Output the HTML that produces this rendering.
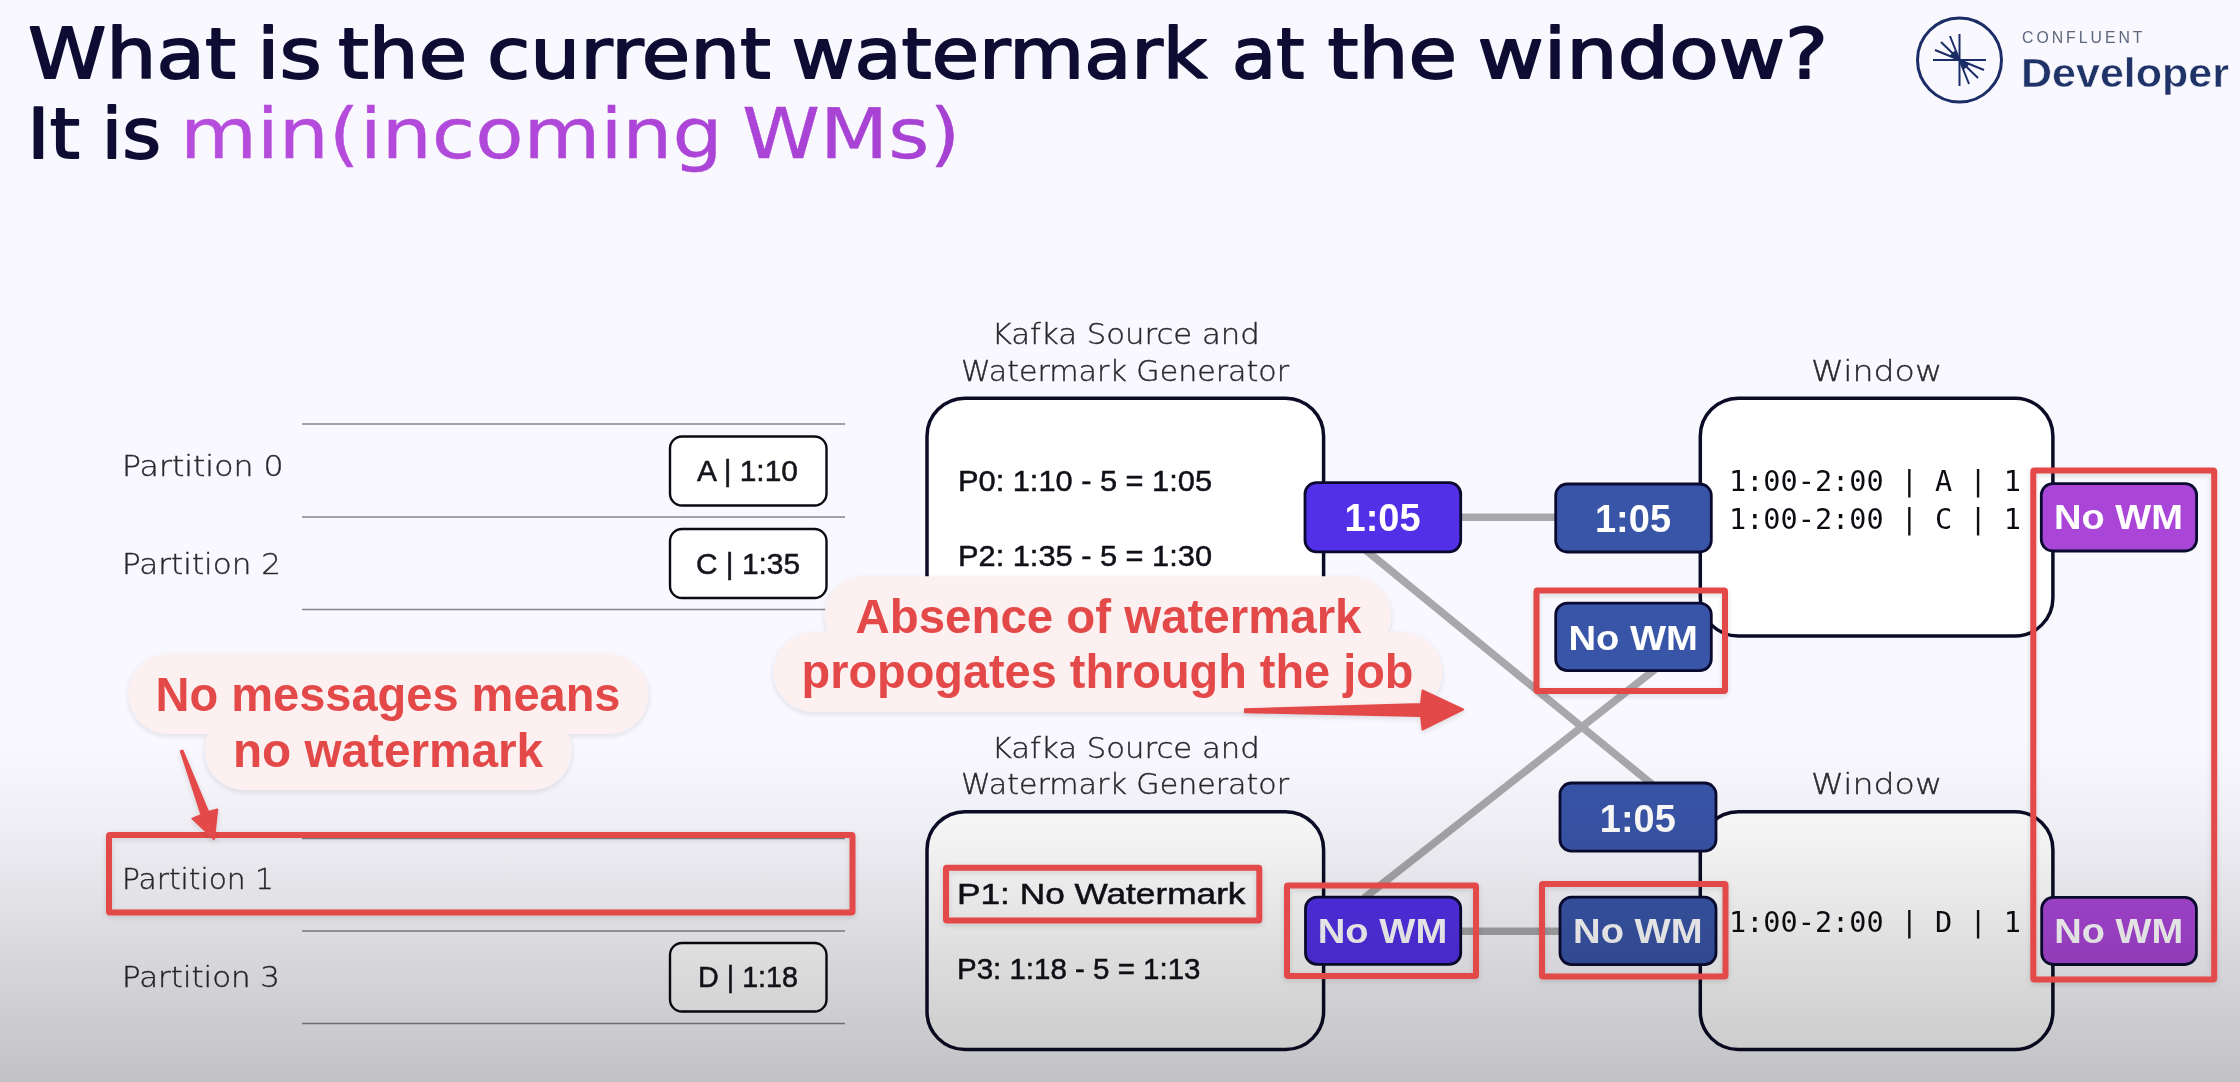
<!DOCTYPE html>
<html lang="en">
<head>
<meta charset="utf-8">
<title>What is the current watermark at the window?</title>
<style>
html,body{margin:0;padding:0;background:#f8f8fe;overflow:hidden;}
body{width:2240px;height:1082px;position:relative;}
svg{position:absolute;left:0;top:0;display:block;will-change:transform;}
.t{font-family:"Liberation Sans",sans-serif;}
.lt{font-family:"DejaVu Sans Light","DejaVu Sans","Liberation Sans",sans-serif;font-weight:200;}
.dj{font-family:"DejaVu Sans","Liberation Sans",sans-serif;}
.mono{font-family:"DejaVu Sans Mono","Liberation Mono",monospace;}
.b{font-family:"Liberation Sans",sans-serif;font-weight:700;}
</style>
</head>
<body>
<svg width="2240" height="1082" viewBox="0 0 2240 1082">
<defs>
  <linearGradient id="bggrad" x1="0" y1="0" x2="0" y2="1">
    <stop offset="0" stop-color="#000" stop-opacity="0"/>
    <stop offset="0.24" stop-color="#000" stop-opacity="0.04"/>
    <stop offset="0.46" stop-color="#000" stop-opacity="0.09"/>
    <stop offset="0.73" stop-color="#000" stop-opacity="0.158"/>
    <stop offset="1" stop-color="#000" stop-opacity="0.22"/>
  </linearGradient>
  <filter id="rsh" x="-5%" y="-5%" width="110%" height="115%">
    <feDropShadow dx="0" dy="2" stdDeviation="2.5" flood-color="#20202a" flood-opacity="0.14"/>
  </filter>
  <filter id="bsh" x="-5%" y="-20%" width="110%" height="150%">
    <feDropShadow dx="0" dy="2" stdDeviation="2.5" flood-color="#30304a" flood-opacity="0.13"/>
  </filter>
  <linearGradient id="purp" gradientUnits="userSpaceOnUse" x1="187" y1="0" x2="954" y2="0">
    <stop offset="0" stop-color="#b74ddd"/>
    <stop offset="1" stop-color="#a641d4"/>
  </linearGradient>
</defs>

<!-- background -->
<rect x="0" y="0" width="2240" height="1082" fill="#f8f8fe"/>

<!-- ===== title ===== -->
<g id="title" class="dj" font-size="70" stroke-width="1.8" stroke-linejoin="round">
  <text x="28.0" y="78" fill="#0f0c33" stroke="#0f0c33" textLength="208.0" lengthAdjust="spacingAndGlyphs">What</text>
  <text x="256.9" y="78" fill="#0f0c33" stroke="#0f0c33" textLength="64.8" lengthAdjust="spacingAndGlyphs">is</text>
  <text x="338.0" y="78" fill="#0f0c33" stroke="#0f0c33" textLength="129.0" lengthAdjust="spacingAndGlyphs">the</text>
  <text x="487.0" y="78" fill="#0f0c33" stroke="#0f0c33" textLength="284.0" lengthAdjust="spacingAndGlyphs">current</text>
  <text x="791.6" y="78" fill="#0f0c33" stroke="#0f0c33" textLength="415.8" lengthAdjust="spacingAndGlyphs">watermark</text>
  <text x="1232.1" y="78" fill="#0f0c33" stroke="#0f0c33" textLength="72.3" lengthAdjust="spacingAndGlyphs">at</text>
  <text x="1327.6" y="78" fill="#0f0c33" stroke="#0f0c33" textLength="129.4" lengthAdjust="spacingAndGlyphs">the</text>
  <text x="1477.6" y="78" fill="#0f0c33" stroke="#0f0c33" textLength="350.4" lengthAdjust="spacingAndGlyphs">window?</text>
  <text x="27.0" y="158" fill="#0f0c33" stroke="#0f0c33" textLength="53.0" lengthAdjust="spacingAndGlyphs">It</text>
  <text x="101.6" y="158" fill="#0f0c33" stroke="#0f0c33" textLength="59.6" lengthAdjust="spacingAndGlyphs">is</text>
  <text x="179.9" y="158" fill="url(#purp)" stroke="url(#purp)" stroke-width="0.4" textLength="542.7" lengthAdjust="spacingAndGlyphs">min(incoming</text>
  <text x="742.0" y="158" fill="url(#purp)" stroke="url(#purp)" stroke-width="0.4" textLength="218.2" lengthAdjust="spacingAndGlyphs">WMs)</text>
</g>

<!-- ===== logo ===== -->
<g id="logo">
  <circle cx="1959.5" cy="60" r="42" fill="none" stroke="#1b2d66" stroke-width="3"/>
  <g stroke="#1b2d66" stroke-width="2" stroke-linecap="butt" fill="none">
    <line x1="1959.5" y1="34" x2="1959.5" y2="86"/>
    <line x1="1933" y1="60" x2="1986" y2="60"/>
    <line x1="1959.5" y1="60" x2="1950" y2="36"/>
    <line x1="1959.5" y1="60" x2="1941" y2="42"/>
    <line x1="1959.5" y1="60" x2="1935" y2="50"/>
    <line x1="1959.5" y1="60" x2="1969" y2="84"/>
    <line x1="1959.5" y1="60" x2="1978" y2="78"/>
    <line x1="1959.5" y1="60" x2="1984" y2="70"/>
  </g>
  <polygon points="1959.5,60 1955.7,50.4 1952.1,52.8 1949.7,56" fill="#1b2d66"/>
  <polygon points="1959.5,60 1963.3,69.6 1966.9,67.2 1969.3,64" fill="#1b2d66"/>
  <text class="t" x="2022" y="43.3" font-size="15.8" fill="#5d667d" textLength="120.5" lengthAdjust="spacing">CONFLUENT</text>
  <text class="b" x="2021" y="87.3" font-size="41.5" fill="#1f3368" stroke="#f8f8fe" stroke-width="0.55" textLength="208" lengthAdjust="spacingAndGlyphs">Developer</text>
</g>

<!-- ===== partitions ===== -->
<g id="partitions">
  <g stroke="#85858c" stroke-width="1.7">
    <line x1="302" y1="424" x2="845" y2="424"/>
    <line x1="302" y1="517" x2="845" y2="517"/>
    <line x1="302" y1="609.5" x2="845" y2="609.5"/>
    <line x1="302" y1="838.5" x2="845" y2="838.5"/>
    <line x1="302" y1="931" x2="845" y2="931"/>
    <line x1="302" y1="1023.5" x2="845" y2="1023.5"/>
  </g>
  <g class="lt" font-size="29" fill="#2a2a2e" stroke="#2a2a2e" stroke-width="0.4">
    <text x="122" y="475.5" textLength="161.5" lengthAdjust="spacingAndGlyphs">Partition 0</text>
    <text x="122" y="573.5" textLength="159" lengthAdjust="spacingAndGlyphs">Partition 2</text>
    <text x="122" y="888.5" textLength="152" lengthAdjust="spacingAndGlyphs">Partition 1</text>
    <text x="122" y="987" textLength="158" lengthAdjust="spacingAndGlyphs">Partition 3</text>
  </g>
  <g fill="#ffffff" stroke="#0a0a12" stroke-width="2.4">
    <rect x="670" y="436.5" width="156.5" height="69" rx="12" ry="12"/>
    <rect x="670" y="529" width="156.5" height="69" rx="12" ry="12"/>
    <rect x="670" y="943" width="156.5" height="68.5" rx="12" ry="12"/>
  </g>
  <g class="t" font-size="29" fill="#15151c" stroke="#15151c" stroke-width="0.5">
    <text x="697" y="481" textLength="101" lengthAdjust="spacingAndGlyphs">A | 1:10</text>
    <text x="696" y="574" textLength="104" lengthAdjust="spacingAndGlyphs">C | 1:35</text>
    <text x="698" y="987" textLength="100" lengthAdjust="spacingAndGlyphs">D | 1:18</text>
  </g>
</g>

<!-- ===== connectors ===== -->
<g id="connectors" stroke="#a8a8aa" stroke-width="7.6" fill="none" stroke-linecap="butt">
  <line x1="1460" y1="517.2" x2="1557" y2="517.2"/>
  <line x1="1460" y1="931.2" x2="1560" y2="931.2"/>
  <line x1="1365.6" y1="550" x2="1655.3" y2="787"/>
  <line x1="1364.2" y1="898" x2="1656.7" y2="668"/>
</g>

<!-- ===== operator boxes ===== -->
<g id="boxes" fill="#ffffff" stroke="#0b0b26" stroke-width="3.5">
  <rect x="927" y="398.2" width="396.6" height="237.8" rx="38" ry="38"/>
  <rect x="927" y="811.7" width="396.6" height="237.8" rx="38" ry="38"/>
  <rect x="1700.3" y="398.2" width="352.6" height="237.8" rx="38" ry="38"/>
  <rect x="1700.3" y="811.7" width="352.6" height="237.8" rx="38" ry="38"/>
</g>

<!-- ===== operator labels ===== -->
<g id="oplabels" class="lt" font-size="28.5" fill="#2a2a2e" stroke="#2a2a2e" stroke-width="0.4" text-anchor="middle">
  <text x="1125.7" y="344" textLength="268" lengthAdjust="spacingAndGlyphs">Kafka Source and</text>
  <text x="1125" y="380.5" textLength="328" lengthAdjust="spacingAndGlyphs">Watermark Generator</text>
  <text x="1125.7" y="757.5" textLength="268" lengthAdjust="spacingAndGlyphs">Kafka Source and</text>
  <text x="1125" y="794" textLength="328" lengthAdjust="spacingAndGlyphs">Watermark Generator</text>
  <text x="1876.6" y="380.8" textLength="131" lengthAdjust="spacingAndGlyphs">Window</text>
  <text x="1876.6" y="794.3" textLength="131" lengthAdjust="spacingAndGlyphs">Window</text>
</g>

<!-- ===== box contents ===== -->
<g id="wmtext" class="t" font-size="29.5" fill="#101018" stroke="#101018" stroke-width="0.5">
  <text x="958" y="490.5" textLength="254" lengthAdjust="spacingAndGlyphs">P0: 1:10 - 5 = 1:05</text>
  <text x="958" y="565.5" textLength="254" lengthAdjust="spacingAndGlyphs">P2: 1:35 - 5 = 1:30</text>
  <text x="957" y="903.6" textLength="288.5" lengthAdjust="spacingAndGlyphs">P1: No Watermark</text>
  <text x="957" y="978.8" textLength="243.5" lengthAdjust="spacingAndGlyphs">P3: 1:18 - 5 = 1:13</text>
</g>
<g id="wintext" class="mono" font-size="28.4" fill="#0c0c12">
  <text x="1729" y="491" textLength="292" lengthAdjust="spacingAndGlyphs">1:00-2:00 | A | 1</text>
  <text x="1729" y="529" textLength="292" lengthAdjust="spacingAndGlyphs">1:00-2:00 | C | 1</text>
  <text x="1729" y="931.5" textLength="292" lengthAdjust="spacingAndGlyphs">1:00-2:00 | D | 1</text>
</g>

<!-- ===== watermark badges ===== -->
<g id="badges" stroke="#0a0a30" stroke-width="2.8">
  <rect x="1305" y="482.6" width="155.7" height="69.2" rx="11.5" ry="11.5" fill="#5230e8"/>
  <rect x="1305.5" y="897.2" width="155.2" height="67.2" rx="11.5" ry="11.5" fill="#5230e8"/>
  <rect x="1555.7" y="484" width="155.6" height="68" rx="11.5" ry="11.5" fill="#3955a8"/>
  <rect x="1555.7" y="603.2" width="155.6" height="67.4" rx="11.5" ry="11.5" fill="#3955a8"/>
  <rect x="1560" y="783" width="156" height="68.2" rx="11.5" ry="11.5" fill="#3955a8"/>
  <rect x="1560" y="897.2" width="156" height="67.4" rx="11.5" ry="11.5" fill="#3955a8"/>
  <rect x="2041.3" y="483.6" width="155.3" height="67.4" rx="11.5" ry="11.5" fill="#a946d7"/>
  <rect x="2041.7" y="897.3" width="154.7" height="67.2" rx="11.5" ry="11.5" fill="#a946d7"/>
</g>
<g id="badgetext" class="b" fill="#ffffff" text-anchor="middle">
  <text x="1382.6" y="531.2" font-size="38.8" textLength="76" lengthAdjust="spacingAndGlyphs">1:05</text>
  <text x="1382.5" y="942.6" font-size="34.2" textLength="129.5" lengthAdjust="spacingAndGlyphs">No WM</text>
  <text x="1633" y="532" font-size="38.8" textLength="76" lengthAdjust="spacingAndGlyphs">1:05</text>
  <text x="1633.2" y="649.5" font-size="34.2" textLength="129.5" lengthAdjust="spacingAndGlyphs">No WM</text>
  <text x="1637.8" y="831.6" font-size="38.8" textLength="76" lengthAdjust="spacingAndGlyphs">1:05</text>
  <text x="1637.8" y="942.6" font-size="34.2" textLength="129.5" lengthAdjust="spacingAndGlyphs">No WM</text>
  <text x="2118.5" y="529" font-size="34.2" textLength="129" lengthAdjust="spacingAndGlyphs">No WM</text>
  <text x="2118.7" y="942.9" font-size="34.2" textLength="129" lengthAdjust="spacingAndGlyphs">No WM</text>
</g>

<!-- ===== video player bottom gradient ===== -->
<rect id="shade" x="0" y="742" width="2240" height="340" fill="url(#bggrad)"/>

<!-- ===== red annotations ===== -->
<g id="redboxes" fill="none" stroke="#e44949" stroke-width="6" stroke-linejoin="round" filter="url(#rsh)">
  <rect x="109" y="835" width="743.5" height="77.5" rx="1"/>
  <rect x="946" y="867.8" width="313.3" height="52.7" rx="1"/>
  <rect x="1287" y="885.5" width="189" height="90.4" rx="1"/>
  <rect x="1536.5" y="590.6" width="188.5" height="100.5" rx="1"/>
  <rect x="1542" y="884" width="183.5" height="92.6" rx="1"/>
  <rect x="2033.3" y="470.4" width="180.9" height="509" rx="1"/>
</g>
<g id="bubbles" fill="#fcf0f1" filter="url(#bsh)">
  <rect x="128.5" y="654.6" width="520" height="79.4" rx="39.7" ry="39.7"/>
  <rect x="204.7" y="710.7" width="367" height="79.4" rx="39.7" ry="39.7"/>
  <rect x="824.6" y="576.3" width="566.5" height="79.4" rx="39.7" ry="39.7"/>
  <rect x="773.4" y="632.4" width="669" height="79.4" rx="39.7" ry="39.7"/>
</g>
<g id="bubbletext" class="b" font-size="48.4" fill="#e44949">
  <text x="155.5" y="711.3" textLength="465" lengthAdjust="spacingAndGlyphs">No messages means</text>
  <text x="233" y="767.2" textLength="310" lengthAdjust="spacingAndGlyphs">no watermark</text>
  <text x="855.5" y="632.9" textLength="506" lengthAdjust="spacingAndGlyphs">Absence of watermark</text>
  <text x="801.5" y="688.4" textLength="612" lengthAdjust="spacingAndGlyphs">propogates through the job</text>
</g>
<g id="arrows" fill="#e44949" stroke="#e44949" stroke-width="2" stroke-linejoin="round" filter="url(#rsh)">
  <!-- left arrow pointing down to Partition 1 -->
  <polygon points="180.8,751.2 182.6,750.6 208.2,812 217.3,809.5 214,839 192.4,818.6 201.4,814.8"/>
  <!-- right arrow pointing to the job -->
  <polygon points="1245,709.3 1245,712.2 1421,716 1422.5,729.5 1463,709.5 1422.5,690.5 1421,704"/>
</g>

</svg>
</body>
</html>
